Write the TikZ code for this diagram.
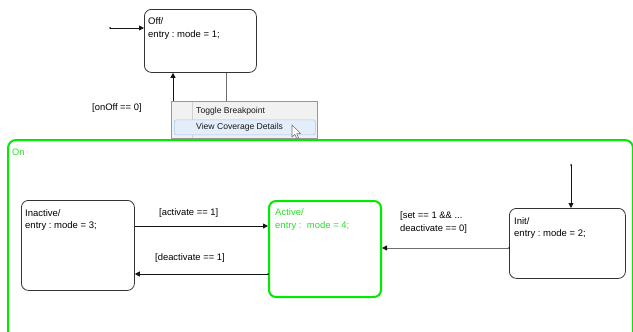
\documentclass[tikz,border=0pt]{standalone}
\usepackage{fontspec}
\setmainfont{Liberation Sans}
\usetikzlibrary{arrows.meta}
\frenchspacing
\definecolor{lime}{RGB}{0,235,0}
\definecolor{limetext}{RGB}{40,225,40}
\definecolor{wire}{RGB}{20,20,20}
\definecolor{wiregray}{RGB}{110,110,110}
\definecolor{menubg}{RGB}{241,241,241}
\definecolor{menuedge}{RGB}{151,151,151}
\definecolor{hilite}{RGB}{228,238,250}
\definecolor{hiliteedge}{RGB}{170,200,236}
\begin{document}
\begin{tikzpicture}[x=1pt,y=-1pt,
  statebox/.style={draw=black!80, rounded corners=7pt, line width=0.8pt, anchor=north west, inner sep=0pt},
  activebox/.style={draw=lime, rounded corners=7pt, line width=2pt, anchor=north west, inner sep=0pt},
  superbox/.style={draw=lime, rounded corners=8pt, line width=2pt, anchor=north west, inner sep=0pt},
  statetext/.style={anchor=north west, inner sep=0pt, align=left, font=\fontsize{9.5}{12.6}\selectfont},
  guard/.style={inner sep=0pt, align=left, font=\fontsize{9.4}{12.6}\selectfont},
  conn/.style={draw=wire, line width=0.8pt, -{Triangle[length=5pt,width=5pt]}},
  conngray/.style={draw=wiregray, line width=1pt, -{Triangle[length=5pt,width=5pt,color=wire]}},
  dotstart/.style={fill=wire, circle, inner sep=0pt, minimum size=2pt},
  menutext/.style={anchor=west, inner sep=0pt, font=\fontsize{8.6}{10}\selectfont, text=black!90}]
\useasboundingbox (0,0) rectangle (633,332);

% superstate On (extends past the lower edge)
\node[superbox, minimum width=625pt, minimum height=210pt] (on) at (7,139) {};
\node[anchor=north west, inner sep=0pt, text=limetext, font=\fontsize{9.3}{12}\selectfont] (onlabel) at (12,149) {On};

% states
\node[statebox, minimum width=112pt, minimum height=63pt] (off) at (144,9) {};
\node[statetext] (offtext) at (148,17.5) {Off/\\entry : mode = 1;};

\node[statebox, minimum width=113pt, minimum height=90pt] (inactive) at (21,200) {};
\node[statetext] (inactivetext) at (25,209) {Inactive/\\entry : mode = 3;};

\node[activebox, minimum width=112pt, minimum height=96pt] (active) at (268,200) {};
\node[statetext, text=limetext] (activetext) at (275,208.5) {Active/\\entry :\ \ mode = 4;};

\node[statebox, minimum width=116pt, minimum height=70pt] (init) at (509,208) {};
\node[statetext] (inittext) at (514,217) {Init/\\entry : mode = 2;};

% default transitions
\node[dotstart] (offdef) at (110,28) {};
\draw[conn] (offdef.center) -- (off.west |- offdef);
\node[dotstart] (initdef) at (571,165) {};
\draw[conn] (initdef.center) -- (initdef |- init.north);

% transitions between Off and On
\coordinate (onoffA) at (173,139);
\coordinate (onoffB) at (226,139);
\draw[conn] (onoffA) -- (onoffA |- off.south);
\draw[conngray] (onoffB |- off.south) -- (onoffB);
\node[guard, anchor=west] (gonoff) at (92,108.5) {[onOff == 0]};

% transitions inside On
\coordinate (acty) at (0,226);
\coordinate (deacty) at (0,274);
\coordinate (sety) at (0,248);
\draw[conn] (inactive.east |- acty) -- (active.west |- acty);
\node[guard, anchor=west] (gact) at (159,213.5) {[activate == 1]};
\node[dotstart] (deactstart) at (active.west |- deacty) {};
\draw[conn] (deactstart.center) -- (inactive.east |- deacty);
\node[guard, anchor=west] (gdeact) at (155,258.5) {[deactivate == 1]};
\node[dotstart] (setstart) at (init.west |- sety) {};
\draw[conngray] (setstart.center) -- (active.east |- sety);
\node[guard, anchor=north west] (gset) at (400,211.5) {[set == 1 \&\& ...\\deactivate == 0]};

% context menu
\node[draw=menuedge, fill=menubg, line width=0.7pt, anchor=north west, inner sep=0pt,
      minimum width=146pt, minimum height=37pt] (menu) at (171,101) {};
\draw[draw=black!18, line width=0.6pt] (192,102) -- (192,137.5);
\node[draw=hiliteedge, fill=hilite, rounded corners=2pt, line width=0.6pt, anchor=north west,
      inner sep=0pt, minimum width=141pt, minimum height=15pt] (menuhl) at (174,119.5) {};
\node[menutext] (itemA) at (196,111) {Toggle Breakpoint};
\node[menutext] (itemB) at (196,127) {View Coverage Details};

% mouse pointer
\draw[fill=white, draw=black!55, line width=0.6pt, line join=round]
  (292,125) -- (292,137) -- (294.8,134.3) -- (296.8,138.6) -- (298.6,137.8)
  -- (296.7,133.6) -- (300.6,133.6) -- cycle;
\end{tikzpicture}
\end{document}
